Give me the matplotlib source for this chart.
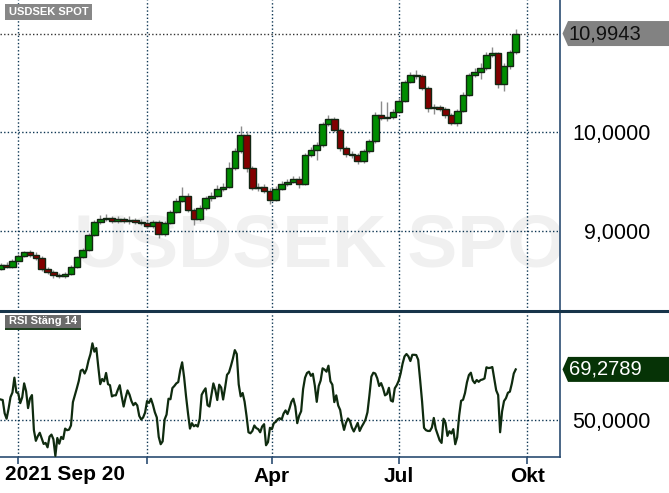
import numpy as np
import pandas as pd
import matplotlib
matplotlib.use("Agg")
import matplotlib.pyplot as plt
from matplotlib.patches import Polygon, Rectangle
from matplotlib.lines import Line2D

plt.rcParams["font.family"] = ["Liberation Sans", "DejaVu Sans"]

# ---- data ----
START = "2021-09-20"
CANDLE_STEP = 3  # one candle per 3 trading days

opens = [8.620, 8.657, 8.640, 8.700, 8.747, 8.788, 8.758, 8.727, 8.616, 8.586,
         8.556, 8.545, 8.566, 8.636, 8.737, 8.808, 8.960, 9.091, 9.121, 9.131,
         9.101, 9.121, 9.101, 9.111, 9.091, 9.081, 9.051, 9.091, 8.970, 9.081,
         9.192, 9.303, 9.354, 9.212, 9.121, 9.232, 9.333, 9.354, 9.424, 9.444,
         9.636, 9.808, 9.970, 9.636, 9.434, 9.444, 9.404, 9.313, 9.424, 9.475,
         9.495, 9.525, 9.475, 9.768, 9.818, 9.869, 10.081, 10.131, 10.020, 9.838,
         9.778, 9.768, 9.707, 9.808, 9.909, 10.172, 10.141, 10.151, 10.202, 10.313,
         10.505, 10.576, 10.566, 10.444, 10.242, 10.252, 10.232, 10.172, 10.091, 10.212,
         10.374, 10.576, 10.606, 10.646, 10.778, 10.798, 10.485, 10.667, 10.808]
highs = [8.680, 8.690, 8.715, 8.770, 8.800, 8.805, 8.790, 8.745, 8.640, 8.610,
         8.580, 8.590, 8.660, 8.750, 8.830, 8.980, 9.110, 9.160, 9.170, 9.155,
         9.150, 9.140, 9.150, 9.130, 9.120, 9.110, 9.110, 9.110, 9.100, 9.210,
         9.330, 9.440, 9.380, 9.230, 9.260, 9.350, 9.390, 9.460, 9.480, 9.700,
         9.840, 10.060, 10.010, 9.660, 9.480, 9.470, 9.430, 9.450, 9.500, 9.530,
         9.560, 9.560, 9.790, 9.850, 9.900, 10.100, 10.170, 10.150, 10.040, 9.860,
         9.810, 9.790, 9.830, 9.930, 10.200, 10.310, 10.300, 10.230, 10.340, 10.530,
         10.610, 10.630, 10.590, 10.460, 10.280, 10.270, 10.250, 10.190, 10.230, 10.400,
         10.600, 10.650, 10.700, 10.810, 10.860, 10.810, 10.700, 10.830, 11.040]
lows = [8.605, 8.625, 8.630, 8.690, 8.735, 8.740, 8.710, 8.600, 8.570, 8.530,
        8.525, 8.530, 8.555, 8.625, 8.725, 8.795, 8.945, 9.075, 9.100, 9.080,
        9.085, 9.080, 9.075, 9.070, 9.060, 9.030, 9.035, 8.930, 8.950, 9.070,
        9.180, 9.290, 9.195, 9.060, 9.100, 9.210, 9.300, 9.340, 9.400, 9.430,
        9.620, 9.790, 9.600, 9.410, 9.400, 9.380, 9.270, 9.300, 9.410, 9.455,
        9.480, 9.430, 9.460, 9.750, 9.720, 9.850, 10.060, 10.000, 9.810, 9.750,
        9.740, 9.680, 9.690, 9.790, 9.890, 10.120, 10.110, 10.130, 10.190, 10.300,
        10.490, 10.540, 10.420, 10.200, 10.180, 10.210, 10.140, 10.070, 10.060, 10.200,
        10.360, 10.560, 10.540, 10.630, 10.760, 10.440, 10.410, 10.640, 10.790]
closes = [8.657, 8.640, 8.700, 8.747, 8.788, 8.758, 8.727, 8.616, 8.586, 8.556,
          8.545, 8.566, 8.636, 8.737, 8.808, 8.960, 9.091, 9.121, 9.131, 9.101,
          9.121, 9.101, 9.111, 9.091, 9.081, 9.051, 9.091, 8.970, 9.081, 9.192,
          9.303, 9.354, 9.212, 9.121, 9.232, 9.333, 9.354, 9.424, 9.444, 9.636,
          9.808, 9.970, 9.636, 9.434, 9.444, 9.404, 9.313, 9.424, 9.475, 9.495,
          9.525, 9.475, 9.768, 9.818, 9.869, 10.081, 10.131, 10.020, 9.838, 9.778,
          9.768, 9.707, 9.808, 9.909, 10.172, 10.141, 10.151, 10.202, 10.313, 10.505,
          10.576, 10.566, 10.444, 10.242, 10.252, 10.232, 10.172, 10.091, 10.212, 10.374,
          10.576, 10.606, 10.646, 10.778, 10.798, 10.485, 10.667, 10.808, 10.9943]

rsi = [57.7, 57.5, 52.4, 50.3, 54.1, 58.6, 60.4, 66.1, 60.5, 60.0,
       56.3, 58.5, 63.9, 60.9, 54.4, 58.1, 59.4, 45.9, 41.8, 43.6,
       44.9, 42.7, 40.6, 41.0, 39.3, 43.4, 44.2, 42.4, 36.0, 42.9,
       40.7, 43.3, 42.5, 46.5, 45.9, 46.1, 47.7, 56.7, 59.3, 62.0,
       64.8, 68.8, 69.2, 67.7, 69.4, 72.7, 75.2, 79.3, 76.1, 77.5,
       70.3, 63.6, 65.6, 64.7, 67.9, 63.6, 63.2, 58.9, 59.3, 59.3,
       61.4, 63.2, 58.9, 55.0, 58.4, 61.2, 59.6, 57.1, 55.5, 56.4,
       55.4, 51.4, 50.0, 50.8, 52.7, 57.1, 56.4, 58.0, 55.7, 52.8,
       50.8, 43.3, 40.5, 41.6, 50.0, 51.9, 58.0, 57.8, 62.1, 62.9,
       63.9, 64.4, 68.9, 72.0, 66.3, 58.9, 52.4, 46.5, 48.6, 47.4,
       47.9, 47.3, 50.3, 59.5, 60.9, 62.0, 55.5, 55.0, 59.5, 63.9,
       61.4, 57.5, 63.4, 62.3, 57.7, 62.2, 67.2, 68.1, 70.6, 73.4,
       76.7, 75.2, 63.5, 58.9, 60.2, 56.9, 51.4, 45.1, 44.7, 45.6,
       47.7, 46.7, 46.3, 45.1, 47.3, 48.2, 40.1, 41.3, 46.8, 46.3,
       48.6, 49.1, 50.1, 50.5, 50.0, 52.3, 53.5, 52.1, 54.2, 56.8,
       58.0, 55.0, 48.6, 51.5, 53.2, 61.7, 66.1, 67.9, 68.4, 66.8,
       67.6, 63.1, 56.8, 62.9, 65.0, 69.7, 69.2, 68.4, 70.7, 64.7,
       63.4, 56.7, 59.3, 55.4, 53.7, 49.2, 46.0, 48.8, 50.4, 49.5,
       46.9, 45.4, 47.0, 48.7, 45.6, 47.2, 48.5, 50.0, 52.8, 59.3,
       66.5, 68.0, 67.7, 65.9, 62.9, 64.0, 62.0, 59.3, 59.8, 62.2,
       57.3, 56.9, 62.0, 63.2, 64.9, 67.7, 71.5, 74.3, 75.2, 74.3,
       72.5, 74.9, 74.9, 74.8, 73.0, 65.2, 56.9, 46.8, 45.9, 45.6,
       45.6, 46.9, 50.6, 46.4, 44.2, 42.0, 41.0, 50.3, 48.7, 43.7,
       45.5, 44.6, 46.3, 40.5, 43.2, 51.5, 57.2, 57.6, 60.2, 64.3,
       67.1, 68.0, 65.0, 64.0, 65.2, 64.5, 65.2, 65.4, 65.8, 70.1,
       69.8, 69.9, 70.2, 65.6, 61.2, 59.4, 45.1, 53.1, 57.1, 58.2,
       60.3, 60.7, 63.8, 67.7, 69.2789]

tick_months = ["2021-10", "2022-01", "2022-04", "2022-07", "2022-10"]
tick_labels = ["", "", "Apr", "Jul", "Okt"]
price_ticks = [9.0, 10.0]
rsi_ticks = [50.0]


def sek(v):
    return f"{v:.4f}".replace(".", ",")


# ---- layout ----
W, H = 669, 493
fig = plt.figure(figsize=(W / 100, H / 100), dpi=100)
fig.patch.set_facecolor("white")
ax = fig.add_axes([0, 1 - 311 / H, 560 / W, 311 / H])
ax2 = fig.add_axes([0, 1 - 457 / H, 560 / W, 146 / H])

GRID = "#0c3552"
SPINE = "#2b4d72"
dot = (0, (1, 1.6))

days = pd.bdate_range(START, "2022-12-31")
tick_pos = [days.searchsorted(pd.Timestamp(m + "-01")) for m in tick_months]

o, h, l, c = map(np.array, (opens, highs, lows, closes))
cx = np.arange(len(c)) * CANDLE_STEP
up = c >= o

# watermark
ax.text(74 / 560, 0.1415, "USDSEK SPOT", transform=ax.transAxes, fontsize=54,
        fontweight="bold", color="#f0f0f0", ha="left", va="baseline", zorder=0,
        clip_on=True)

for t in tick_pos:
    ax.axvline(t, color=GRID, lw=1, ls=dot, zorder=1)
    ax2.axvline(t, color=GRID, lw=1, ls=dot, zorder=1)
for p in price_ticks:
    ax.axhline(p, color=GRID, lw=1, ls=dot, zorder=1)
ax.axhline(closes[-1], color="#333333", lw=1, ls=dot, zorder=1)
for r in rsi_ticks:
    ax2.axhline(r, color=GRID, lw=1, ls=dot, zorder=1)

ax.vlines(cx, l, h, color="#8c8c8c", lw=1, zorder=2)
ax.bar(cx, c - o, bottom=o, width=3.4,
       color=np.where(up, "#008c00", "#820000"),
       edgecolor="#132613", linewidth=1, zorder=3)

ax2.plot(np.arange(len(rsi)), rsi, color="#0f2b0f", lw=1.6, zorder=3)

xlim = (-0.38, 286.7)
ax.set_xlim(*xlim)
ax2.set_xlim(*xlim)
ax.set_ylim(8.192, 11.333)
ax2.set_ylim(35.58, 91.75)

for a in (ax, ax2):
    for s in ("left", "top"):
        a.spines[s].set_visible(False)
    a.spines["right"].set_color(SPINE)
    a.spines["right"].set_linewidth(1.2)
    a.set_facecolor("none")
ax.spines["bottom"].set_visible(False)
ax2.spines["bottom"].set_color(SPINE)
ax2.spines["bottom"].set_linewidth(1.2)

ax.set_xticks(tick_pos)
ax.tick_params(axis="x", length=0, labelbottom=False)
ax2.set_xticks(tick_pos)
ax2.set_xticklabels(tick_labels, fontsize=15, fontweight="bold")
ax2.tick_params(axis="x", length=5, width=1.2, color=SPINE, pad=2)

for a, ticks in ((ax, price_ticks), (ax2, rsi_ticks)):
    a.yaxis.tick_right()
    a.set_yticks(ticks)
    a.set_yticklabels([sek(v) for v in ticks], fontsize=15.5)
    a.tick_params(axis="y", length=0, pad=65)
    for lab in a.get_yticklabels():
        lab.set_horizontalalignment("right")

fig.text(5 / W, 1 - 475 / H, "2021 Sep 20", fontsize=15, fontweight="bold",
         ha="left", va="center")

# separator between panels
fig.add_artist(Line2D([0, 1], [1 - 311 / H, 1 - 311 / H], color="#17344a", lw=2.2))


def px(x, y):
    return (x / W, y / H)


def box(x0, y0, x1, y1, fc):
    fig.add_artist(Rectangle(px(x0, H - y1), (x1 - x0) / W, (y1 - y0) / H,
                             facecolor=fc, edgecolor="none"))


# panel title boxes
box(5, 4, 92, 20, "#878787")
fig.text(48.5 / W, 1 - 12 / H, "USDSEK SPOT", color="white", fontsize=8,
         fontweight="bold", ha="center", va="center")
box(5, 315, 81, 327.5, "#6b6b6b")
box(5, 327.5, 81, 329.5, "#1d3f1d")
fig.text(43 / W, 1 - 321.5 / H, "RSI Stäng 14", color="white", fontsize=8,
         fontweight="bold", ha="center", va="center")


def tag(a, value, fc, tc):
    y = a.transData.transform((0, value))[1]
    pts = [px(562.5, y), px(568, y + 12.5), px(669, y + 12.5),
           px(669, y - 12.5), px(568, y - 12.5)]
    fig.add_artist(Polygon(pts, closed=True, facecolor=fc, edgecolor="none"))
    fig.text(569 / W, y / H, sek(value), color=tc, fontsize=14.5,
             ha="left", va="center")


tag(ax, closes[-1], "#828282", "#111111")
tag(ax2, rsi[-1], "#063306", "white")

fig.savefig("out.png", dpi=100)
